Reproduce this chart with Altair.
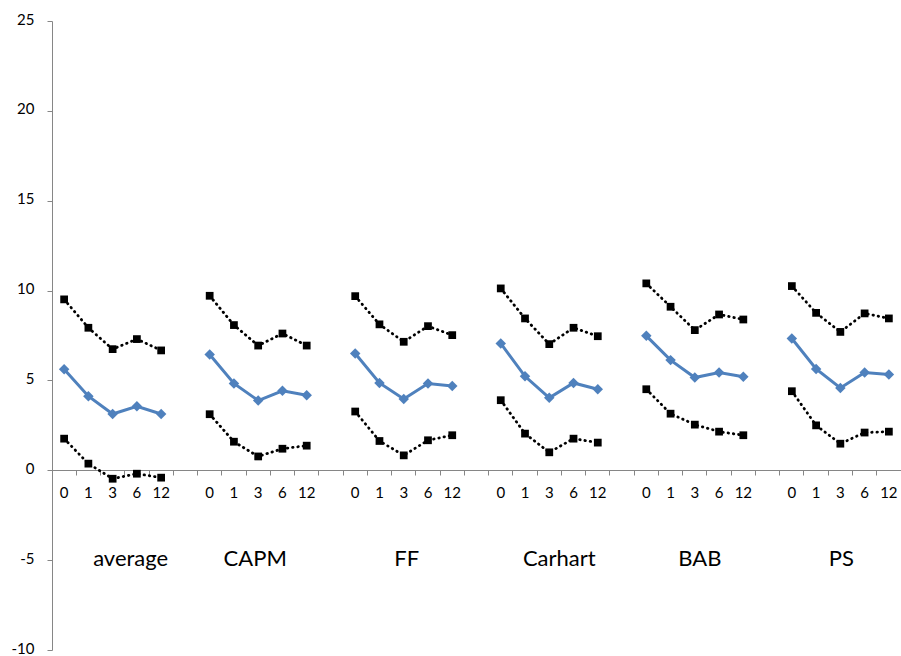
import altair as alt
import pandas as pd

groups = ["average", "CAPM", "FF", "Carhart", "BAB", "PS"]
horizons = ["0", "1", "3", "6", "12"]

upper = [
    [9.51, 7.93, 6.74, 7.30, 6.67],
    [9.71, 8.08, 6.94, 7.61, 6.94],
    [9.69, 8.12, 7.15, 8.02, 7.52],
    [10.12, 8.45, 7.02, 7.93, 7.46],
    [10.40, 9.10, 7.80, 8.67, 8.39],
    [10.25, 8.76, 7.70, 8.73, 8.45],
]
middle = [
    [5.62, 4.12, 3.13, 3.56, 3.13],
    [6.44, 4.83, 3.88, 4.42, 4.17],
    [6.50, 4.86, 3.97, 4.83, 4.69],
    [7.06, 5.23, 4.03, 4.86, 4.51],
    [7.48, 6.13, 5.16, 5.44, 5.20],
    [7.33, 5.64, 4.58, 5.44, 5.33],
]
lower = [
    [1.76, 0.37, -0.47, -0.19, -0.41],
    [3.12, 1.59, 0.77, 1.20, 1.37],
    [3.27, 1.63, 0.83, 1.67, 1.95],
    [3.90, 2.04, 1.00, 1.76, 1.54],
    [4.51, 3.15, 2.54, 2.15, 1.95],
    [4.40, 2.50, 1.48, 2.10, 2.15],
]
y_ticks = [-10, -5, 0, 5, 10, 15, 20, 25]

domain = []
for gi, g in enumerate(groups):
    for h in horizons:
        domain.append(f"{g}|{h}")
    if gi < len(groups) - 1:
        domain.append(f"gap{gi}")

rows = []
for name, series in [("upper", upper), ("middle", middle), ("lower", lower)]:
    for gi, g in enumerate(groups):
        for hi, h in enumerate(horizons):
            rows.append({"cat": f"{g}|{h}", "value": series[gi][hi],
                         "series": name, "key": f"{name}-{g}"})
df = pd.DataFrame(rows)

FONT = "Lato"
GREY = "#868686"
BLUE = "#4F81BD"

xscale = alt.Scale(type="band", domain=domain, paddingInner=0, paddingOuter=0)
yscale = alt.Scale(domain=[-10, 25], nice=False, zero=False)
xaxis = alt.Axis(
    title=None, labelAngle=0, offset=-180, bandPosition=0,
    labelExpr="indexof(datum.value, '|') >= 0 ? split(datum.value, '|')[1] : ''",
    domainColor=GREY, tickColor=GREY, tickSize=5, labelPadding=10,
    labelFont=FONT, labelFontSize=15, labelColor="black", grid=False,
)
yaxis = alt.Axis(
    title=None, values=y_ticks, grid=False, domainColor=GREY, tickColor=GREY,
    tickSize=5, labelPadding=13, labelFont=FONT, labelFontSize=15,
    labelColor="black", labelOffset=-2, labelExpr="'' + datum.value",
)

base = alt.Chart(df).encode(
    x=alt.X("cat:N", scale=xscale, axis=xaxis),
    y=alt.Y("value:Q", scale=yscale, axis=yaxis),
    detail="key:N",
)
is_mid = alt.datum.series == "middle"

dotted = base.transform_filter(~is_mid).mark_line(
    color="black", strokeWidth=2.8, strokeDash=[0.5, 4.8], strokeCap="round"
)
squares = base.transform_filter(~is_mid).mark_point(
    shape="square", filled=True, size=60, color="black", opacity=1
)
blue_line = base.transform_filter(is_mid).mark_line(color=BLUE, strokeWidth=3)
diamonds = base.transform_filter(is_mid).mark_point(
    shape="diamond", filled=True, size=110, color=BLUE, opacity=1
)

label_dx = {"average": 18, "CAPM": -3, "FF": 3, "Carhart": 10, "BAB": 5, "PS": 1}
texts = []
for g in groups:
    texts.append(
        alt.Chart(pd.DataFrame({"cat": [f"{g}|3"], "label": [g]})).mark_text(
            font=FONT, fontSize=22, color="black", baseline="alphabetic",
            dy=6, dx=label_dx[g],
        ).encode(
            x=alt.X("cat:N", scale=xscale),
            y=alt.datum(-5, type="quantitative"),
            text="label:N",
        )
    )

chart = alt.layer(dotted, squares, blue_line, diamonds, *texts).properties(
    width=849, height=629,
    padding={"left": 52, "top": 21, "right": 0, "bottom": 6},
    autosize=alt.AutoSizeParams(type="none"),
    background="white",
).configure_view(stroke=None)

chart.save("out.html", embed_options={"renderer": "svg", "actions": False})
